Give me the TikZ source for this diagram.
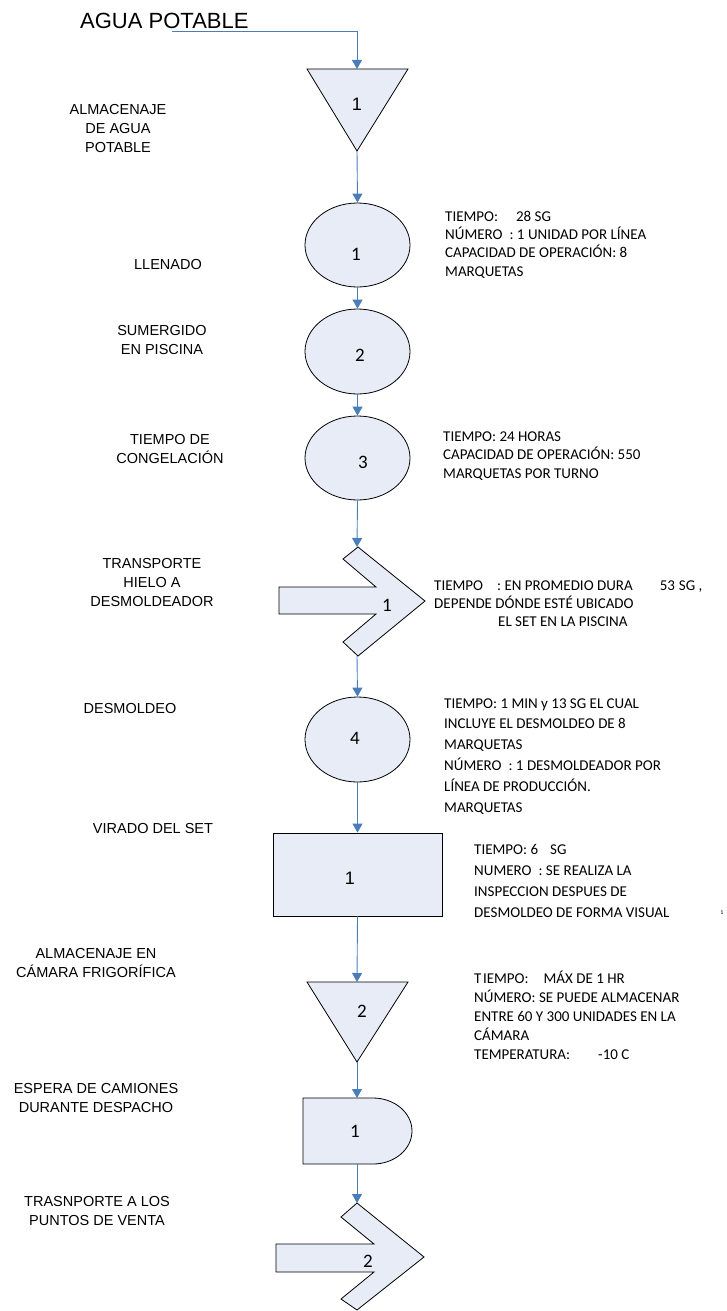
\documentclass[tikz,border=0pt]{standalone}
\usepackage{fontspec}
\setmainfont{Liberation Sans}
\newfontfamily\notefont{Carlito}
\usetikzlibrary{shapes.geometric,arrows.meta}
\definecolor{flowblue}{HTML}{4A7EBB}
\definecolor{shapefill}{HTML}{E7ECF6}
\begin{document}
\begin{tikzpicture}[x=1pt,y=-1pt,
  shp/.style={draw=black, line width=0.8pt, fill=shapefill},
  flow/.style={draw=flowblue, line width=0.9pt, -{Triangle[width=10pt,length=9pt]}},
  num/.style={font=\notefont\fontsize{19}{21}\selectfont, inner sep=0},
  numa/.style={font=\fontsize{18}{20}\selectfont, inner sep=0},
  lbl/.style={font=\fontsize{14.5}{19}\selectfont, align=center, inner sep=0},
  % anchored on the baseline of the last line
  note/.style={font=\notefont\fontsize{15}{#1}\selectfont, align=left, anchor=base west, inner sep=0},
]
\useasboundingbox (0,0) rectangle (727,1311);

% raw material entering the process
\node[font=\fontsize{22}{24}\selectfont, anchor=base west, inner sep=0] (src) at (80,29) {AGUA POTABLE};
\coordinate (srcout) at (172,31);

% storage 1
\draw[shp] (307,69) -- (408,69) -- (357,151) -- cycle;
\coordinate (t1top) at (357,69);
\coordinate (t1bot) at (357,151);
\node[numa] (t1) at (357,104) {1};

% operations 1-3
\node[shp, ellipse, minimum width=105pt, minimum height=84pt, inner sep=0] (o1) at (357.5,245) {};
\node[num] (o1n) at (356,254) {1};
\node[shp, ellipse, minimum width=105pt, minimum height=85pt, inner sep=0] (o2) at (357.5,351.5) {};
\node[num] (o2n) at (360,355) {2};
\node[shp, ellipse, minimum width=105pt, minimum height=84pt, inner sep=0] (o3) at (357.5,458) {};
\node[num] (o3n) at (363,462) {3};

% transport 1
\draw[shp] (279,587) -- (376,587) -- (343,559) -- (358,547) -- (425,601)
  -- (358,656) -- (343,642) -- (376,614) -- (279,614) -- cycle;
\coordinate (c1top) at (357,547);
\coordinate (c1bot) at (357,656);
\node[num] (c1n) at (387,605) {1};

% operation 4
\node[shp, ellipse, minimum width=105pt, minimum height=85pt, inner sep=0] (o4) at (357.5,739.5) {};
\node[num] (o4n) at (355,738) {4};

% inspection 1
\node[shp, rectangle, minimum width=169pt, minimum height=83pt, inner sep=0] (r1) at (357.5,874.5) {};
\node[numa] (r1n) at (350,878) {1};

% storage 2
\draw[shp] (307,982) -- (408,982) -- (357,1062) -- cycle;
\coordinate (t2top) at (357,982);
\coordinate (t2bot) at (357,1062);
\node[num] (t2n) at (362,1011) {2};

% delay 1
\draw[shp] (303,1098) -- (373,1098) arc[start angle=-90, end angle=90, x radius=39, y radius=33]
  -- (303,1164) -- cycle;
\coordinate (d1top) at (357,1098);
\coordinate (d1bot) at (357,1164);
\node[num] (d1n) at (355,1131) {1};

% transport 2
\draw[shp] (276,1244) -- (374,1244) -- (341,1217) -- (357,1203) -- (424,1257)
  -- (357,1310) -- (341,1299) -- (374,1272) -- (276,1272) -- cycle;
\coordinate (c2top) at (357,1203);
\node[num] (c2n) at (368,1261) {2};

% flow connectors
\draw[flow] (srcout) -| (t1top);
\draw[flow] (t1bot) -- (o1.north);
\draw[flow] (o1.south) -- (o2.north);
\draw[flow] (o2.south) -- (o3.north);
\draw[flow] (o3.south) -- (c1top);
\draw[flow] (c1bot) -- (o4.north);
\draw[flow] (o4.south) -- (r1.north);
\draw[flow] (r1.south) -- (t2top);
\draw[flow] (t2bot) -- (d1top);
\draw[flow] (d1bot) -- (c2top);

% step names
\node[lbl] (l1) at (118,129) {ALMACENAJE\\DE AGUA\\POTABLE};
\node[lbl] (l2) at (168,265) {LLENADO};
\node[lbl] (l3) at (162,340) {SUMERGIDO\\EN PISCINA};
\node[lbl] (l4) at (170,449) {TIEMPO DE\\CONGELACIÓN};
\node[lbl] (l5) at (152,583) {TRANSPORTE\\HIELO A\\DESMOLDEADOR};
\node[lbl] (l6) at (130,709) {DESMOLDEO};
\node[lbl] (l7) at (153,828) {VIRADO DEL SET};
\node[lbl] (l8) at (96,963) {ALMACENAJE EN\\CÁMARA FRIGORÍFICA};
\node[lbl] (l9) at (96,1097.5) {ESPERA DE CAMIONES\\DURANTE DESPACHO};
\node[lbl] (l10) at (97,1211) {TRASNPORTE A LOS\\PUNTOS DE VENTA};

% step data
\node[note=18.3] (n1) at (445,276) {TIEMPO:\hspace{18pt}28 SG\\NÚMERO\hspace{7pt}: 1 UNIDAD POR LÍNEA\\CAPACIDAD DE OPERACIÓN: 8\\MARQUETAS};
\node[note=18.5] (n2) at (443,478) {TIEMPO: 24 HORAS\\CAPACIDAD DE OPERACIÓN: 550\\MARQUETAS POR TURNO};
\node[note=18] (n3) at (434,626) {TIEMPO\hspace{14pt}: EN PROMEDIO DURA\hspace{27pt}53\hspace{4pt}SG ,\\DEPENDE DÓNDE ESTÉ UBICADO\\\hspace*{64pt}EL SET EN LA PISCINA};
\node[note=20.8] (n4) at (444,812) {TIEMPO: 1 MIN y 13 SG EL CUAL\\INCLUYE EL DESMOLDEO DE 8\\MARQUETAS\\NÚMERO\hspace{7pt}: 1 DESMOLDEADOR POR\\LÍNEA DE PRODUCCIÓN.\\MARQUETAS};
\node[note=21] (n5) at (474,917) {TIEMPO: 6\hspace{12pt}SG\\NUMERO\hspace{7pt}: SE REALIZA LA\\INSPECCION DESPUES DE\\DESMOLDEO DE FORMA VISUAL};
\node[font=\notefont\fontsize{6}{7}\selectfont, inner sep=0] (pg) at (722,913) {1};
\node[note=19] (n6) at (474,1059) {T\kern1.5pt IEMPO:\hspace{15pt}MÁX DE 1 HR\\NÚMERO: SE PUEDE ALMACENAR\\ENTRE 60 Y 300 UNIDADES EN LA\\CÁMARA\\TEMPERATURA:\hspace{28pt}-10 C};
\end{tikzpicture}
\end{document}
